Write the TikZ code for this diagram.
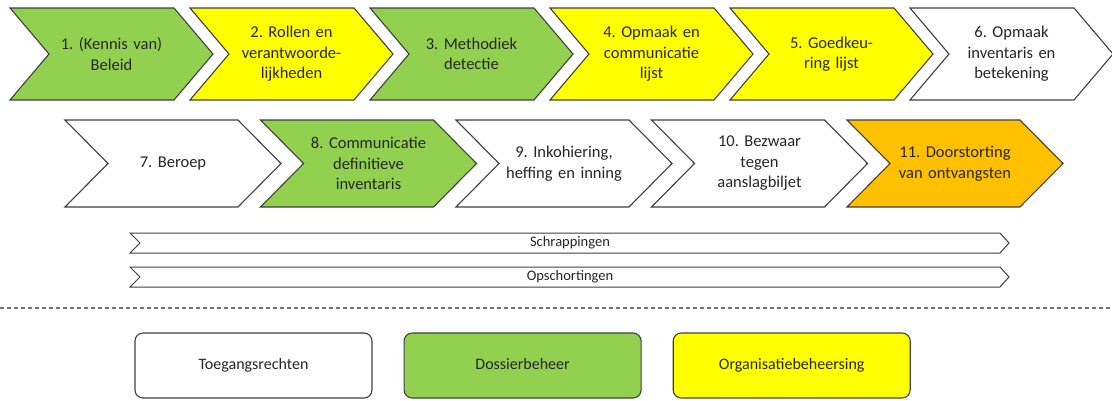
\documentclass[tikz,border=0pt]{standalone}
\usepackage{fontspec}
\setmainfont{Carlito}
\usetikzlibrary{positioning}
\frenchspacing

\definecolor{stepgreen}{HTML}{92D050}
\definecolor{stepyellow}{HTML}{FFFF00}
\definecolor{steporange}{HTML}{FFC000}

\tikzset{
  chevron/.style={draw=black!75, line width=1.1pt, line join=miter},
  steptext/.style={align=center, text width=150pt, inner sep=0pt,
    text=black!85, font=\fontsize{16.5}{20.5}\selectfont},
  bartext/.style={inner sep=0pt, text=black!85, font=\fontsize{14.5}{17}\selectfont},
  legendbox/.style={draw=black!75, line width=1.1pt, rounded corners=8pt,
    minimum width=237pt, minimum height=65pt, text=black!85,
    text height=11pt, text depth=3.5pt,
    font=\fontsize{16}{19}\selectfont},
  sepline/.style={draw=black!55, line width=1.3pt, dash pattern=on 4pt off 3pt}
}

\begin{document}
\begin{tikzpicture}[x=1pt,y=-1pt]
  \useasboundingbox (0,0) rectangle (1112,400);

  % draw the first row of steps
  \foreach \n/\c/\xtext in {
      1/stepgreen/{1. (Kennis van)\\Beleid},
      2/stepyellow/{2. Rollen en\\verantwoorde-\\lijkheden},
      3/stepgreen/{3. Methodiek\\detectie},
      4/stepyellow/{4. Opmaak en\\communicatie\\lijst},
      5/stepyellow/{5. Goedkeu-\\ring lijst},
      6/white/{6. Opmaak\\inventaris en\\betekening}}
  {
    % chevron outline
    \draw[chevron, fill=\c] ({10+180*(\n-1)},8) -- ++(164,0) -- ++(39,46)
      -- ++(-39,46) -- ++(-164,0) -- ++(39,-46) -- cycle;
    % text in the middle
    \node[steptext] (step\n) at ({111.5+180*(\n-1)},54) {\xtext};
  }

  % draw the second row of steps
  \foreach \n/\c/\xtext in {
      7/white/{7. Beroep},
      8/stepgreen/{8. Communicatie\\definitieve\\inventaris},
      9/white/{9. Inkohiering,\\heffing en inning},
      10/white/{10. Bezwaar\\tegen\\aanslagbiljet},
      11/steporange/{11. Doorstorting\\van ontvangsten}}
  {
    \draw[chevron, fill=\c] ({65+195.5*(\n-7)},120) -- ++(173,0) -- ++(43,43.5)
      -- ++(-43,43.5) -- ++(-173,0) -- ++(43,-43.5) -- cycle;
    \node[steptext] (step\n) at ({173+195.5*(\n-7)},163.5) {\xtext};
  }

  % the two long bars under the steps
  \foreach \y/\xtext/\name in {233/Schrappingen/schrap, 267/Opschortingen/opschort}
  {
    \draw[chevron, line width=1pt, fill=white] (130,\y) -- (1000,\y) -- (1009,\y+10)
      -- (1000,\y+20) -- (130,\y+20) -- (140,\y+10) -- cycle;
    \node[bartext] (\name) at (570,\y+10) {\xtext};
  }

  % dashed separator
  \draw[sepline] (0,308) -- (1112,308);

  % the legend
  \node[legendbox, fill=white] (toegang) at (253.5,365.5) {Toegangsrechten};
  \node[legendbox, fill=stepgreen, right=31pt of toegang] (dossier) {Dossierbeheer};
  \node[legendbox, fill=stepyellow, right=31pt of dossier] (organisatie) {Organisatiebeheersing};
\end{tikzpicture}
\end{document}
